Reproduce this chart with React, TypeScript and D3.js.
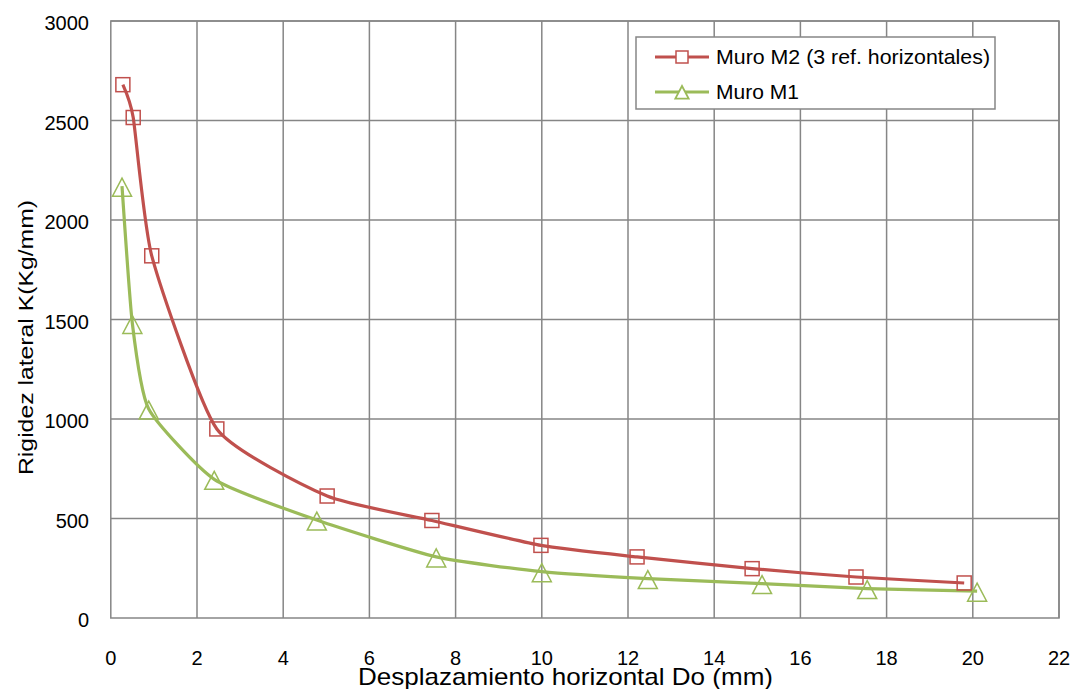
import React from "react";
import * as d3 from "d3";

const m2X = [0.28, 0.52, 0.95, 2.46, 5.02, 7.45, 9.98, 12.21, 14.88, 17.29, 19.8];
const m2Y = [2680, 2515, 1820, 950, 613, 490, 365, 307, 248, 206, 176];
const m1X = [0.26, 0.5, 0.88, 2.4, 4.78, 7.55, 10.0, 12.46, 15.11, 17.55, 20.1];
const m1Y = [2170, 1480, 1050, 697, 492, 307, 233, 198, 173, 148, 135];
const xTicks = [0, 2, 4, 6, 8, 10, 12, 14, 16, 18, 20, 22];
const yTicks = [0, 500, 1000, 1500, 2000, 2500, 3000];
const seriesNames = ["Muro M2 (3 ref. horizontales)", "Muro M1"];

const W = 1079, H = 689;
const L = 110.8, R = 1059, T = 21, B = 618;
const RED = "#C0504D", GREEN = "#9BBB59", GRID = "#868686";
const FONT = "'Liberation Sans', Arial, sans-serif";

export default function App() {
  const x = d3.scaleLinear().domain([0, 22]).range([L, R]);
  const y = d3.scaleLinear().domain([0, 3000]).range([B, T]);
  const line = d3.line<[number, number]>().x(d => x(d[0])).y(d => y(d[1])).curve(d3.curveCardinal.tension(0.45));
  const m2 = m2X.map((v, i) => [v, m2Y[i]] as [number, number]);
  const m1 = m1X.map((v, i) => [v, m1Y[i]] as [number, number]);
  const tri = (cx: number, cy: number, s = 1) =>
    `M${cx},${cy - 10 * s}L${cx + 9.5 * s},${cy + 8 * s}L${cx - 9.5 * s},${cy + 8 * s}Z`;
  return (
    <svg width={W} height={H} style={{ position: "absolute", left: 0, top: 0, background: "#fff" }} fontFamily={FONT}>
      <rect x={0} y={0} width={W} height={H} fill="#fff" />
      {xTicks.slice(1).map(t => (
        <line key={"gx" + t} x1={x(t)} x2={x(t)} y1={T} y2={B} stroke={GRID} strokeWidth={1.5} />
      ))}
      {yTicks.slice(1).map(t => (
        <line key={"gy" + t} x1={L} x2={R} y1={y(t)} y2={y(t)} stroke={GRID} strokeWidth={1.5} />
      ))}
      <rect x={L} y={T} width={R - L} height={B - T} fill="none" stroke={GRID} strokeWidth={1.5} />
      {yTicks.map(t => (
        <text key={"ty" + t} x={89} y={y(t) + 2} dy="0.35em" textAnchor="end" fontSize={20} fill="#000">{t}</text>
      ))}
      {xTicks.map(t => (
        <text key={"tx" + t} x={x(t)} y={665} textAnchor="middle" fontSize={20} fill="#000">{t}</text>
      ))}
      <text x={358} y={685} textLength={415} lengthAdjust="spacingAndGlyphs" fontSize={24} fill="#000">Desplazamiento horizontal  Do (mm)</text>
      <text transform={`translate(33,475) rotate(-90)`} textLength={275} lengthAdjust="spacingAndGlyphs" fontSize={21} fill="#000">Rigidez lateral K(Kg/mm)</text>

      <path d={line(m1) || ""} fill="none" stroke={GREEN} strokeWidth={3.2} />
      <path d={line(m2) || ""} fill="none" stroke={RED} strokeWidth={3.2} />
      {m2.map((d, i) => (
        <rect key={"s" + i} x={x(d[0]) - 7} y={y(d[1]) - 7} width={14} height={14} fill="none" stroke={RED} strokeWidth={1.5} />
      ))}
      {m1.map((d, i) => (
        <path key={"t" + i} d={tri(x(d[0]), y(d[1]) + 2)} fill="none" stroke={GREEN} strokeWidth={1.5} />
      ))}

      <rect x={636} y={37} width={359} height={72} fill="#fff" stroke={GRID} strokeWidth={1.5} />
      <line x1={655} x2={709} y1={57} y2={57} stroke={RED} strokeWidth={3.2} />
      <rect x={676} y={51} width={12} height={12} fill="#fff" stroke={RED} strokeWidth={1.5} />
      <text x={716} y={64} textLength={274} lengthAdjust="spacingAndGlyphs" fontSize={21} fill="#000">{seriesNames[0]}</text>
      <line x1={655} x2={709} y1={92} y2={92} stroke={GREEN} strokeWidth={3.2} />
      <path d={tri(682, 93, 0.7)} fill="#fff" stroke={GREEN} strokeWidth={1.8} />
      <text x={716} y={99} fontSize={21} fill="#000">{seriesNames[1]}</text>
    </svg>
  );
}
